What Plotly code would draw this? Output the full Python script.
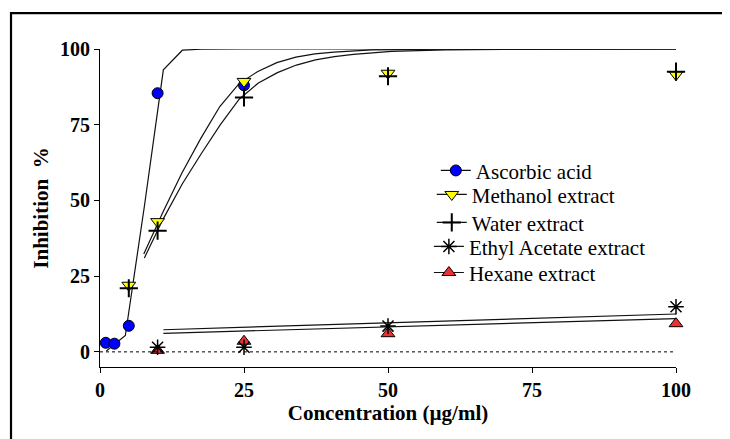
import plotly.graph_objects as go

# ---- data points ----
asc_x = [1, 2.5, 5, 10, 25]
asc_y = [3.0, 2.7, 8.6, 85.4, 88.0]
meth_x = [5, 10, 25, 50, 100]
meth_y = [22.0, 43.0, 89.3, 92.0, 91.5]
water_x = [5, 10, 25, 50, 100]
water_y = [21.0, 40.0, 84.0, 91.0, 92.5]
ethyl_x = [10, 25, 50, 100]
ethyl_y = [1.5, 1.5, 8.5, 14.9]
hex_x = [10, 25, 50, 100]
hex_y = [0.5, 3.5, 6.0, 9.3]

# ---- fitted curves ----
asc_fit_x = [1.1, 4.4, 7.7, 11.0, 14.3, 17.6, 25, 50, 100]
asc_fit_y = [0.3, 5.4, 48.0, 93.1, 99.6, 99.95, 100, 100, 100]
meth_fit_x = [7.6, 10.9, 14.2, 17.5, 20.8, 24.1, 27.4, 30.7, 34.0, 37.3, 40.6, 47.2, 60, 100]
meth_fit_y = [32.3, 46.0, 59.0, 70.5, 81.0, 88.5, 92.6, 95.5, 97.3, 98.4, 99.0, 99.7, 99.95, 100]
water_fit_x = [7.7, 11.0, 14.3, 17.6, 20.9, 24.2, 27.5, 30.8, 34.1, 37.4, 40.7, 44.0, 50.6, 60, 70, 100]
water_fit_y = [31.0, 44.0, 55.5, 65.5, 75.0, 83.5, 88.8, 92.2, 94.7, 96.4, 97.5, 98.2, 99.2, 99.7, 99.9, 100]
ethyl_fit_x = [11, 100]
ethyl_fit_y = [7.3, 12.5]
hex_fit_x = [11, 100]
hex_fit_y = [6.1, 11.0]

names = ["Ascorbic acid", "Methanol extract", "Water extract",
         "Ethyl Acetate extract", "Hexane extract"]
x_ticks = [0, 25, 50, 75, 100]
y_ticks = [0, 25, 50, 75, 100]

FONT = "Liberation Serif"
LINE = dict(color="#111111", width=1.2)

markers = [
    dict(symbol="circle", size=11, color="#0000FF", line=dict(color="black", width=1)),
    dict(symbol="triangle-down", size=12, color="#FFFF00", line=dict(color="black", width=1)),
    dict(symbol="cross-thin", size=13, color="black", line=dict(color="black", width=2)),
    dict(symbol="asterisk", size=13, color="black", line=dict(color="black", width=1.5)),
    dict(symbol="triangle-up", size=12, color="#F03030", line=dict(color="black", width=1)),
]

fig = go.Figure()

# zero reference line
fig.add_shape(type="line", xref="x", yref="y", x0=0, x1=100, y0=0, y1=0,
              line=dict(color="black", width=1, dash="dot"))

# curves
for fx, fy in [(asc_fit_x, asc_fit_y), (meth_fit_x, meth_fit_y), (water_fit_x, water_fit_y),
               (ethyl_fit_x, ethyl_fit_y), (hex_fit_x, hex_fit_y)]:
    fig.add_trace(go.Scatter(x=fx, y=fy, mode="lines", line=LINE, showlegend=False,
                             hoverinfo="skip", cliponaxis=False))

# data points
series = [(asc_x, asc_y), (meth_x, meth_y), (water_x, water_y), (ethyl_x, ethyl_y), (hex_x, hex_y)]
order = [4, 3, 0, 1, 2]
for i in order:
    sx, sy = series[i]
    fig.add_trace(go.Scatter(x=sx, y=sy, mode="markers", marker=markers[i], name=names[i],
                             showlegend=False, cliponaxis=False))

# legend entries: one legend per entry so the row spacing can match the picture
legend_ids = ["legend", "legend2", "legend3", "legend4", "legend5"]
for i in range(5):
    fig.add_trace(go.Scatter(x=[None], y=[None], mode="lines+markers", marker=markers[i],
                             line=LINE, name=names[i], showlegend=True, legend=legend_ids[i]))

legend_x = [0.583, 0.576, 0.576, 0.571, 0.571]
legend_y = [0.617, 0.5415, 0.4534, 0.378, 0.296]
legend_layout = {}
for i, lid in enumerate(legend_ids):
    legend_layout[lid] = dict(x=legend_x[i], y=legend_y[i], xanchor="left", yanchor="middle",
                              font=dict(family=FONT, size=21, color="black"),
                              bgcolor="rgba(0,0,0,0)", itemwidth=30)

# frame around the figure
fig.add_shape(type="rect", xref="paper", yref="paper", x0=-0.1545, x1=1.3, y0=-0.5, y1=1.113,
              line=dict(color="black", width=2.2), fillcolor="rgba(0,0,0,0)", layer="above")

axis_common = dict(showgrid=False, zeroline=False, showline=True, linecolor="black", linewidth=1.2,
                   ticks="outside", ticklen=5, tickwidth=1.2, tickcolor="black", automargin=False,
                   tickfont=dict(family=FONT, size=20, color="black", weight="bold"))

fig.update_layout(
    width=722, height=431,
    margin=dict(l=92, r=54, t=41, b=72, autoexpand=False),
    paper_bgcolor="white", plot_bgcolor="white",
    font=dict(family=FONT, color="black"),
    xaxis=dict(range=[0, 100], tickvals=x_ticks, ticktext=[str(v) for v in x_ticks],
               title=dict(text="Concentration (µg/ml)", standoff=0,
                          font=dict(family=FONT, size=21, color="black", weight="bold")),
               **axis_common),
    yaxis=dict(range=[-5, 100], tickvals=y_ticks, ticktext=[str(v) for v in y_ticks],
               title=dict(text="Inhibition  %", standoff=5,
                          font=dict(family=FONT, size=21, color="black", weight="bold")),
               **axis_common),
    showlegend=True,
    **legend_layout,
)

fig.write_html("out.html")
